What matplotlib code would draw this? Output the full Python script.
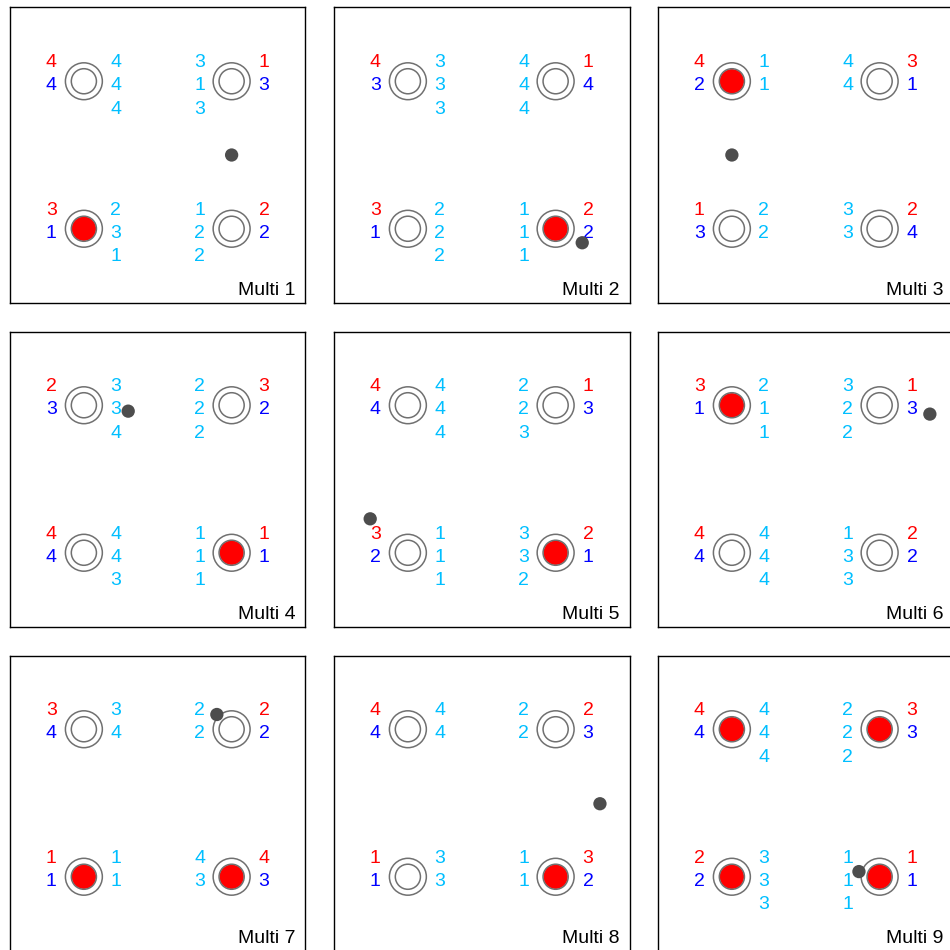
import matplotlib
matplotlib.use('Agg')
import matplotlib.pyplot as plt
from matplotlib.patches import Circle

plt.rcParams['font.family'] = ['Liberation Sans', 'DejaVu Sans']

# one entry per panel; targets ordered top-left, top-right, bottom-left, bottom-right
panel_names = ['Multi 1', 'Multi 2', 'Multi 3', 'Multi 4', 'Multi 5',
               'Multi 6', 'Multi 7', 'Multi 8', 'Multi 9']
red_nums = [[4, 1, 3, 2], [4, 1, 3, 2], [4, 3, 1, 2],
            [2, 3, 4, 1], [4, 1, 3, 2], [3, 1, 4, 2],
            [3, 2, 1, 4], [4, 2, 1, 3], [4, 3, 2, 1]]
blue_nums = [[4, 3, 1, 2], [3, 4, 1, 2], [2, 1, 3, 4],
             [3, 2, 4, 1], [4, 3, 2, 1], [1, 3, 4, 2],
             [4, 2, 1, 3], [4, 3, 1, 2], [4, 3, 2, 1]]
cyan_nums = [
    [[4, 4, 4], [3, 1, 3], [2, 3, 1], [1, 2, 2]],
    [[3, 3, 3], [4, 4, 4], [2, 2, 2], [1, 1, 1]],
    [[1, 1], [4, 4], [2, 2], [3, 3]],
    [[3, 3, 4], [2, 2, 2], [4, 4, 3], [1, 1, 1]],
    [[4, 4, 4], [2, 2, 3], [1, 1, 1], [3, 3, 2]],
    [[2, 1, 1], [3, 2, 2], [4, 4, 4], [1, 3, 3]],
    [[3, 4], [2, 2], [1, 1], [4, 3]],
    [[4, 4], [2, 2], [3, 3], [1, 1]],
    [[4, 4, 4], [2, 2, 2], [3, 3, 3], [1, 1, 1]],
]
filled = [[0, 0, 1, 0], [0, 0, 0, 1], [1, 0, 0, 0],
          [0, 0, 0, 1], [0, 0, 0, 1], [1, 0, 0, 0],
          [0, 0, 1, 1], [0, 0, 0, 1], [1, 1, 1, 1]]
dot_x = [3.00, 3.36, 1.00, 1.60, 0.49, 3.68, 2.80, 3.60, 2.72]
dot_y = [2.00, 3.19, 2.00, 1.08, 2.54, 1.12, 0.80, 2.01, 2.93]

target_x = [1, 3, 1, 3]
target_y = [1, 1, 3, 3]

RED = '#FF0000'
BLUE = '#0000FF'
CYAN = '#00BFFF'
RING = '#707070'
DOT = '#4D4D4D'
row_off = [-0.25, 0.06, 0.38]
fs = 14

fig = plt.figure(figsize=(9.5, 9.5), dpi=100)

for i in range(9):
    r, c = divmod(i, 3)
    left = 10 + 324 * c
    top = 7.5 + 324 * r
    ax = fig.add_axes([left / 950, 1 - (top + 295) / 950, 295.5 / 950, 295 / 950])
    ax.set_xlim(0, 4)
    ax.set_ylim(4, 0)
    ax.set_xticks([])
    ax.set_yticks([])
    for s in ax.spines.values():
        s.set_linewidth(1.0)
        s.set_color('black')

    for k in range(4):
        tx, ty = target_x[k], target_y[k]
        if filled[i][k]:
            ax.add_patch(Circle((tx, ty), 0.165, facecolor=RED, edgecolor='none', zorder=2))
        ax.add_patch(Circle((tx, ty), 0.25, facecolor='none', edgecolor=RING, lw=1.1, zorder=3))
        ax.add_patch(Circle((tx, ty), 0.17, facecolor='none', edgecolor=RING, lw=1.1, zorder=3))

        if tx < 2:
            rb_x, cy_x = tx - 0.44, tx + 0.43
        else:
            rb_x, cy_x = tx + 0.44, tx - 0.43
        ax.text(rb_x, ty + row_off[0], str(red_nums[i][k]), color=RED, fontsize=fs,
                ha='center', va='center', zorder=4)
        ax.text(rb_x, ty + row_off[1], str(blue_nums[i][k]), color=BLUE, fontsize=fs,
                ha='center', va='center', zorder=4)
        for j, v in enumerate(cyan_nums[i][k]):
            ax.text(cy_x, ty + row_off[j], str(v), color=CYAN, fontsize=fs,
                    ha='center', va='center', zorder=4)

    ax.add_patch(Circle((dot_x[i], dot_y[i]), 0.09, facecolor=DOT, edgecolor='none', zorder=5))
    ax.text(0.967, 0.024, panel_names[i], transform=ax.transAxes, fontsize=fs,
            ha='right', va='baseline', color='black')

fig.savefig('out.png', dpi=100)
